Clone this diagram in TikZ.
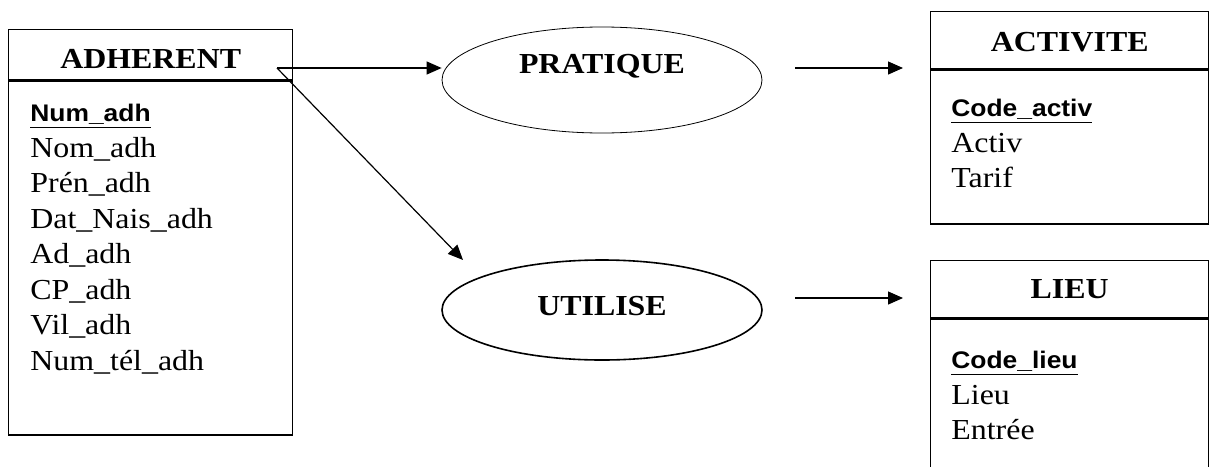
\documentclass[tikz,border=0pt]{standalone}
\usepackage{fontspec}
\setmainfont{Liberation Serif}[FakeStretch=1.1]
\newfontfamily\keyfont{Liberation Sans}[FakeStretch=1.1]
\usetikzlibrary{positioning}
\usetikzlibrary{shapes.geometric}
\usetikzlibrary{arrows.meta}
\newcommand{\cle}[1]{{\keyfont\bfseries\fontsize{12}{17.75}\selectfont\underline{#1}}}
\tikzset{
  titre/.style={draw, rectangle, line width=0.7pt, inner sep=0pt, anchor=north west,
    font=\fontsize{14.5}{18}\selectfont\bfseries},
  corps/.style={draw, rectangle, line width=0.7pt, inner sep=0pt},
  attr/.style={anchor=north west, align=left, inner sep=0pt,
    font=\fontsize{14.5}{17.75}\selectfont},
  assoc/.style={draw, ellipse, minimum width=160pt, inner sep=0pt, text height=10pt,
    font=\fontsize{14.5}{18}\selectfont\bfseries},
  fleche/.style={-{Triangle[length=7.5pt,width=6.5pt]}, line width=0.6pt}
}

\begin{document}
\begin{tikzpicture}[x=0.5pt,y=-0.5pt]
			\clip (0,0) rectangle (1213,466);
			% entites
			\node[titre, minimum width=142pt, minimum height=25pt, text height=13.6pt] (adh) at (8,29) {ADHERENT};
			\node[corps, below=0pt of adh, minimum width=142pt, minimum height=177pt] (adhbody) {};
			\node[attr] (adhattr) at ([xshift=11pt,yshift=-11.7pt]adhbody.north west)
				{\cle{Num\_adh}\\ Nom\_adh\\ Prén\_adh\\ Dat\_Nais\_adh\\ Ad\_adh\\ CP\_adh\\ Vil\_adh\\ Num\_tél\_adh};
			\node[titre, minimum width=139pt, minimum height=28.5pt, text height=11.6pt] (act) at (930,11) {ACTIVITE};
			\node[corps, below=0pt of act, minimum width=139pt, minimum height=77pt] (actbody) {};
			\node[attr] (actattr) at ([xshift=10.5pt,yshift=-14.7pt]actbody.north west)
				{\cle{Code\_activ}\\ Activ\\ Tarif};
			\node[titre, minimum width=139pt, minimum height=28.5pt] (lieu) at (930,260) {LIEU};
			\node[corps, below=0pt of lieu, minimum width=139pt, minimum height=120pt] (lieubody) {};
			\node[attr] (lieuattr) at ([xshift=10.5pt,yshift=-16.2pt]lieubody.north west)
				{\cle{Code\_lieu}\\ Lieu\\ Entrée};
			% associations
			\node[assoc, line width=0.4pt, minimum height=53pt, text depth=17pt] (prat) at (602,80) {PRATIQUE};
			\node[assoc, line width=0.8pt, minimum height=50pt, text depth=5pt] (util) at (602,310) {UTILISE};
			% fleches
			\coordinate (adhout) at (277,68);
			\coordinate (utilin) at (463,260);
			\coordinate (pratout) at (795,68);
			\coordinate (actin) at (903,68);
			\coordinate (utilout) at (795,298);
			\coordinate (lieuin) at (903,298);
			\draw[fleche] (adhout) -- (adhout -| prat.west);
			\draw[fleche] (adhout) -- (utilin);
			\draw[fleche] (pratout) -- (actin);
			\draw[fleche] (utilout) -- (lieuin);
		\end{tikzpicture}
\end{document}
